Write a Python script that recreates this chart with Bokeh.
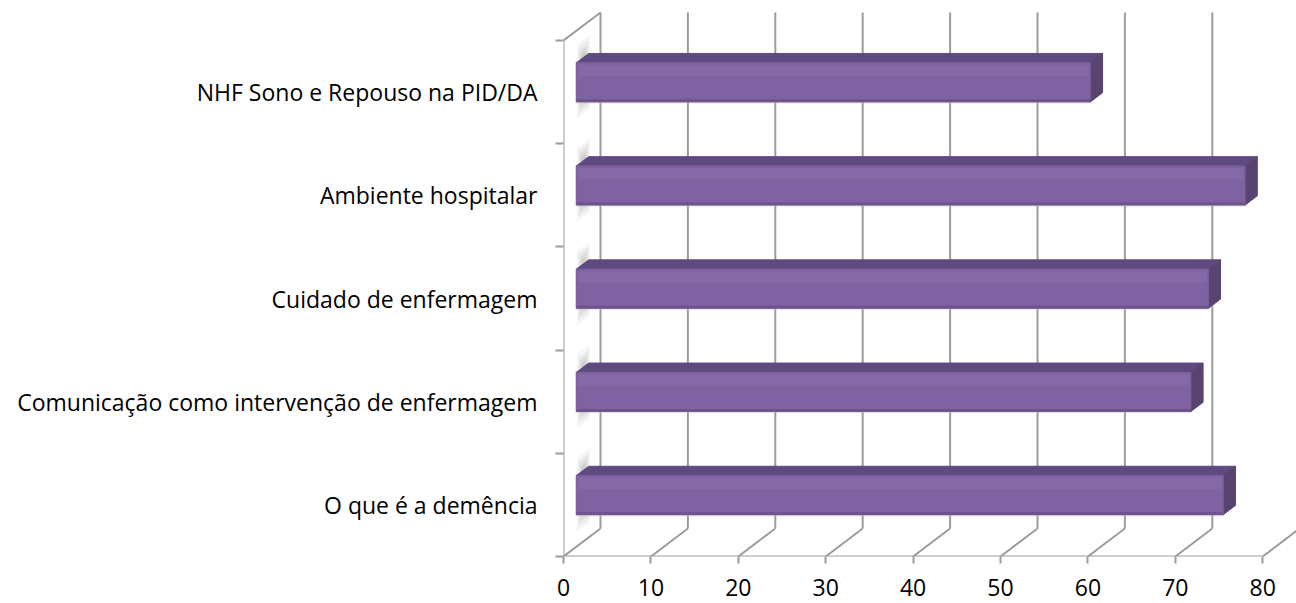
from bokeh.plotting import figure
from bokeh.models import Range1d, FixedTicker
from bokeh.embed import file_html
from bokeh.resources import INLINE

# ---- data ----
categories = ["O que é a demência",
              "Comunicação como intervenção de enfermagem",
              "Cuidado de enfermagem",
              "Ambiente hospitalar",
              "NHF Sono e Repouso na PID/DA"]
values = [74.0, 70.3, 72.3, 76.5, 58.8]
x_ticks = [0, 10, 20, 30, 40, 50, 60, 70, 80]

# ---- 3D style constants (in data units) ----
PX_X = 8.74          # pixels per value unit
PX_Y = 103.2         # pixels per category band
DX = 37 / PX_X       # depth shift along x
DY = 28 / PX_Y       # depth shift along y
T1, T2 = 0.35, 0.68  # depth of bar front / back faces
H = 0.19             # bar half thickness
XMAX = 80
N = len(categories)
centers = [i + 0.5 for i in range(N)]

FRAME_W, FRAME_H = 733, 546
p = figure(width=1296, height=603, output_backend="svg", toolbar_location=None,
           x_range=Range1d(0, FRAME_W / PX_X), y_range=Range1d(0, FRAME_H / PX_Y),
           min_border_left=563, min_border_right=0, min_border_top=10,
           min_border_bottom=47)
p.outline_line_color = None
p.background_fill_color = "white"
p.border_fill_color = "white"
p.xgrid.visible = False
p.ygrid.visible = False

GRID = "#9c9c9c"
GW = 2

# back wall vertical gridlines
p.segment(x0=[v + DX for v in x_ticks], y0=[DY] * len(x_ticks),
          x1=[v + DX for v in x_ticks], y1=[N + DY] * len(x_ticks),
          line_color=GRID, line_width=GW)
# floor diagonals
p.segment(x0=x_ticks, y0=[0] * len(x_ticks),
          x1=[v + DX for v in x_ticks], y1=[DY] * len(x_ticks),
          line_color=GRID, line_width=GW)
# left wall top diagonal
p.segment(x0=[0], y0=[N], x1=[DX], y1=[N + DY], line_color=GRID, line_width=GW)
# front axes lines
p.segment(x0=[0], y0=[0], x1=[XMAX], y1=[0], line_color=GRID, line_width=GW)
p.segment(x0=[0], y0=[0], x1=[0], y1=[N], line_color=GRID, line_width=GW)

# soft shadows of bars on left wall
for (ta, tb, a, al) in [(0.36, 0.72, 0.36, 0.06), (0.40, 0.68, 0.32, 0.08),
                        (0.44, 0.64, 0.28, 0.10), (0.48, 0.60, 0.24, 0.12)]:
    xs, ys = [], []
    for c in centers:
        xs.append([DX * ta, DX * tb, DX * tb, DX * ta])
        ys.append([c - a + DY * ta, c - a + DY * tb, c + a + DY * tb, c + a + DY * ta])
    p.patches(xs, ys, fill_color="#606060", fill_alpha=al, line_color=None)

# bars
ex, ey = DX * (T2 - T1), DY * (T2 - T1)
fx0, fx1, fy0, fy1 = [], [], [], []
top_x, top_y, side_x, side_y = [], [], [], []
for c, v in zip(centers, values):
    x0 = DX * T1
    x1 = v + DX * T1
    y0 = c - H + DY * T1
    y1 = c + H + DY * T1
    fx0.append(x0); fx1.append(x1); fy0.append(y0); fy1.append(y1)
    top_x.append([x0, x1, x1 + ex, x0 + ex])
    top_y.append([y1, y1, y1 + ey, y1 + ey])
    side_x.append([x1, x1 + ex, x1 + ex, x1])
    side_y.append([y0, y0 + ey, y1 + ey, y1])

# glow outline
p.quad(left=fx0, right=fx1, bottom=fy0, top=fy1, fill_color=None,
       line_color="#c4c4c4", line_width=3, line_alpha=0.5)
p.patches(top_x, top_y, fill_color="#5f4a7f", line_color="#5f4a7f", line_width=1)
p.patches(side_x, side_y, fill_color="#58446f", line_color="#58446f", line_width=1)
p.quad(left=fx0, right=fx1, bottom=fy0, top=fy1, fill_color="#7f62a1",
       line_color="#7a5e9b", line_width=1)
# soft highlight near top of front face
p.quad(left=[x + 0.2 for x in fx0], right=[x - 0.2 for x in fx1],
       bottom=[y - 0.13 for y in fy1], top=[y - 0.02 for y in fy1],
       fill_color="#8a6dab", fill_alpha=0.55, line_color=None)
# darker bottom edge
p.quad(left=fx0, right=fx1, bottom=fy0, top=[y + 0.025 for y in fy0],
       fill_color="#6c5389", line_color=None)

# axes
xa = p.xaxis[0]
xa.ticker = FixedTicker(ticks=x_ticks)
xa.axis_line_color = None
xa.major_tick_line_color = GRID
xa.major_tick_line_width = GW
xa.major_tick_out = 7
xa.major_tick_in = 0
xa.minor_tick_line_color = None
xa.major_label_text_font = "Open Sans"
xa.major_label_text_font_size = "23px"
xa.major_label_text_color = "black"
xa.major_label_standoff = 15

ya = p.yaxis[0]
ya.ticker = FixedTicker(ticks=centers, minor_ticks=list(range(N + 1)))
ya.major_label_overrides = {c: lab for c, lab in zip(centers, categories)}
ya.axis_line_color = None
ya.major_tick_line_color = None
ya.major_tick_out = 0
ya.major_tick_in = 0
ya.minor_tick_line_color = GRID
ya.minor_tick_line_width = GW
ya.minor_tick_out = 8
ya.minor_tick_in = 0
ya.major_label_text_font = "Open Sans"
ya.major_label_text_font_size = "23px"
ya.major_label_text_color = "black"
ya.major_label_standoff = 18

open("out.html", "w").write(file_html(p, INLINE))
